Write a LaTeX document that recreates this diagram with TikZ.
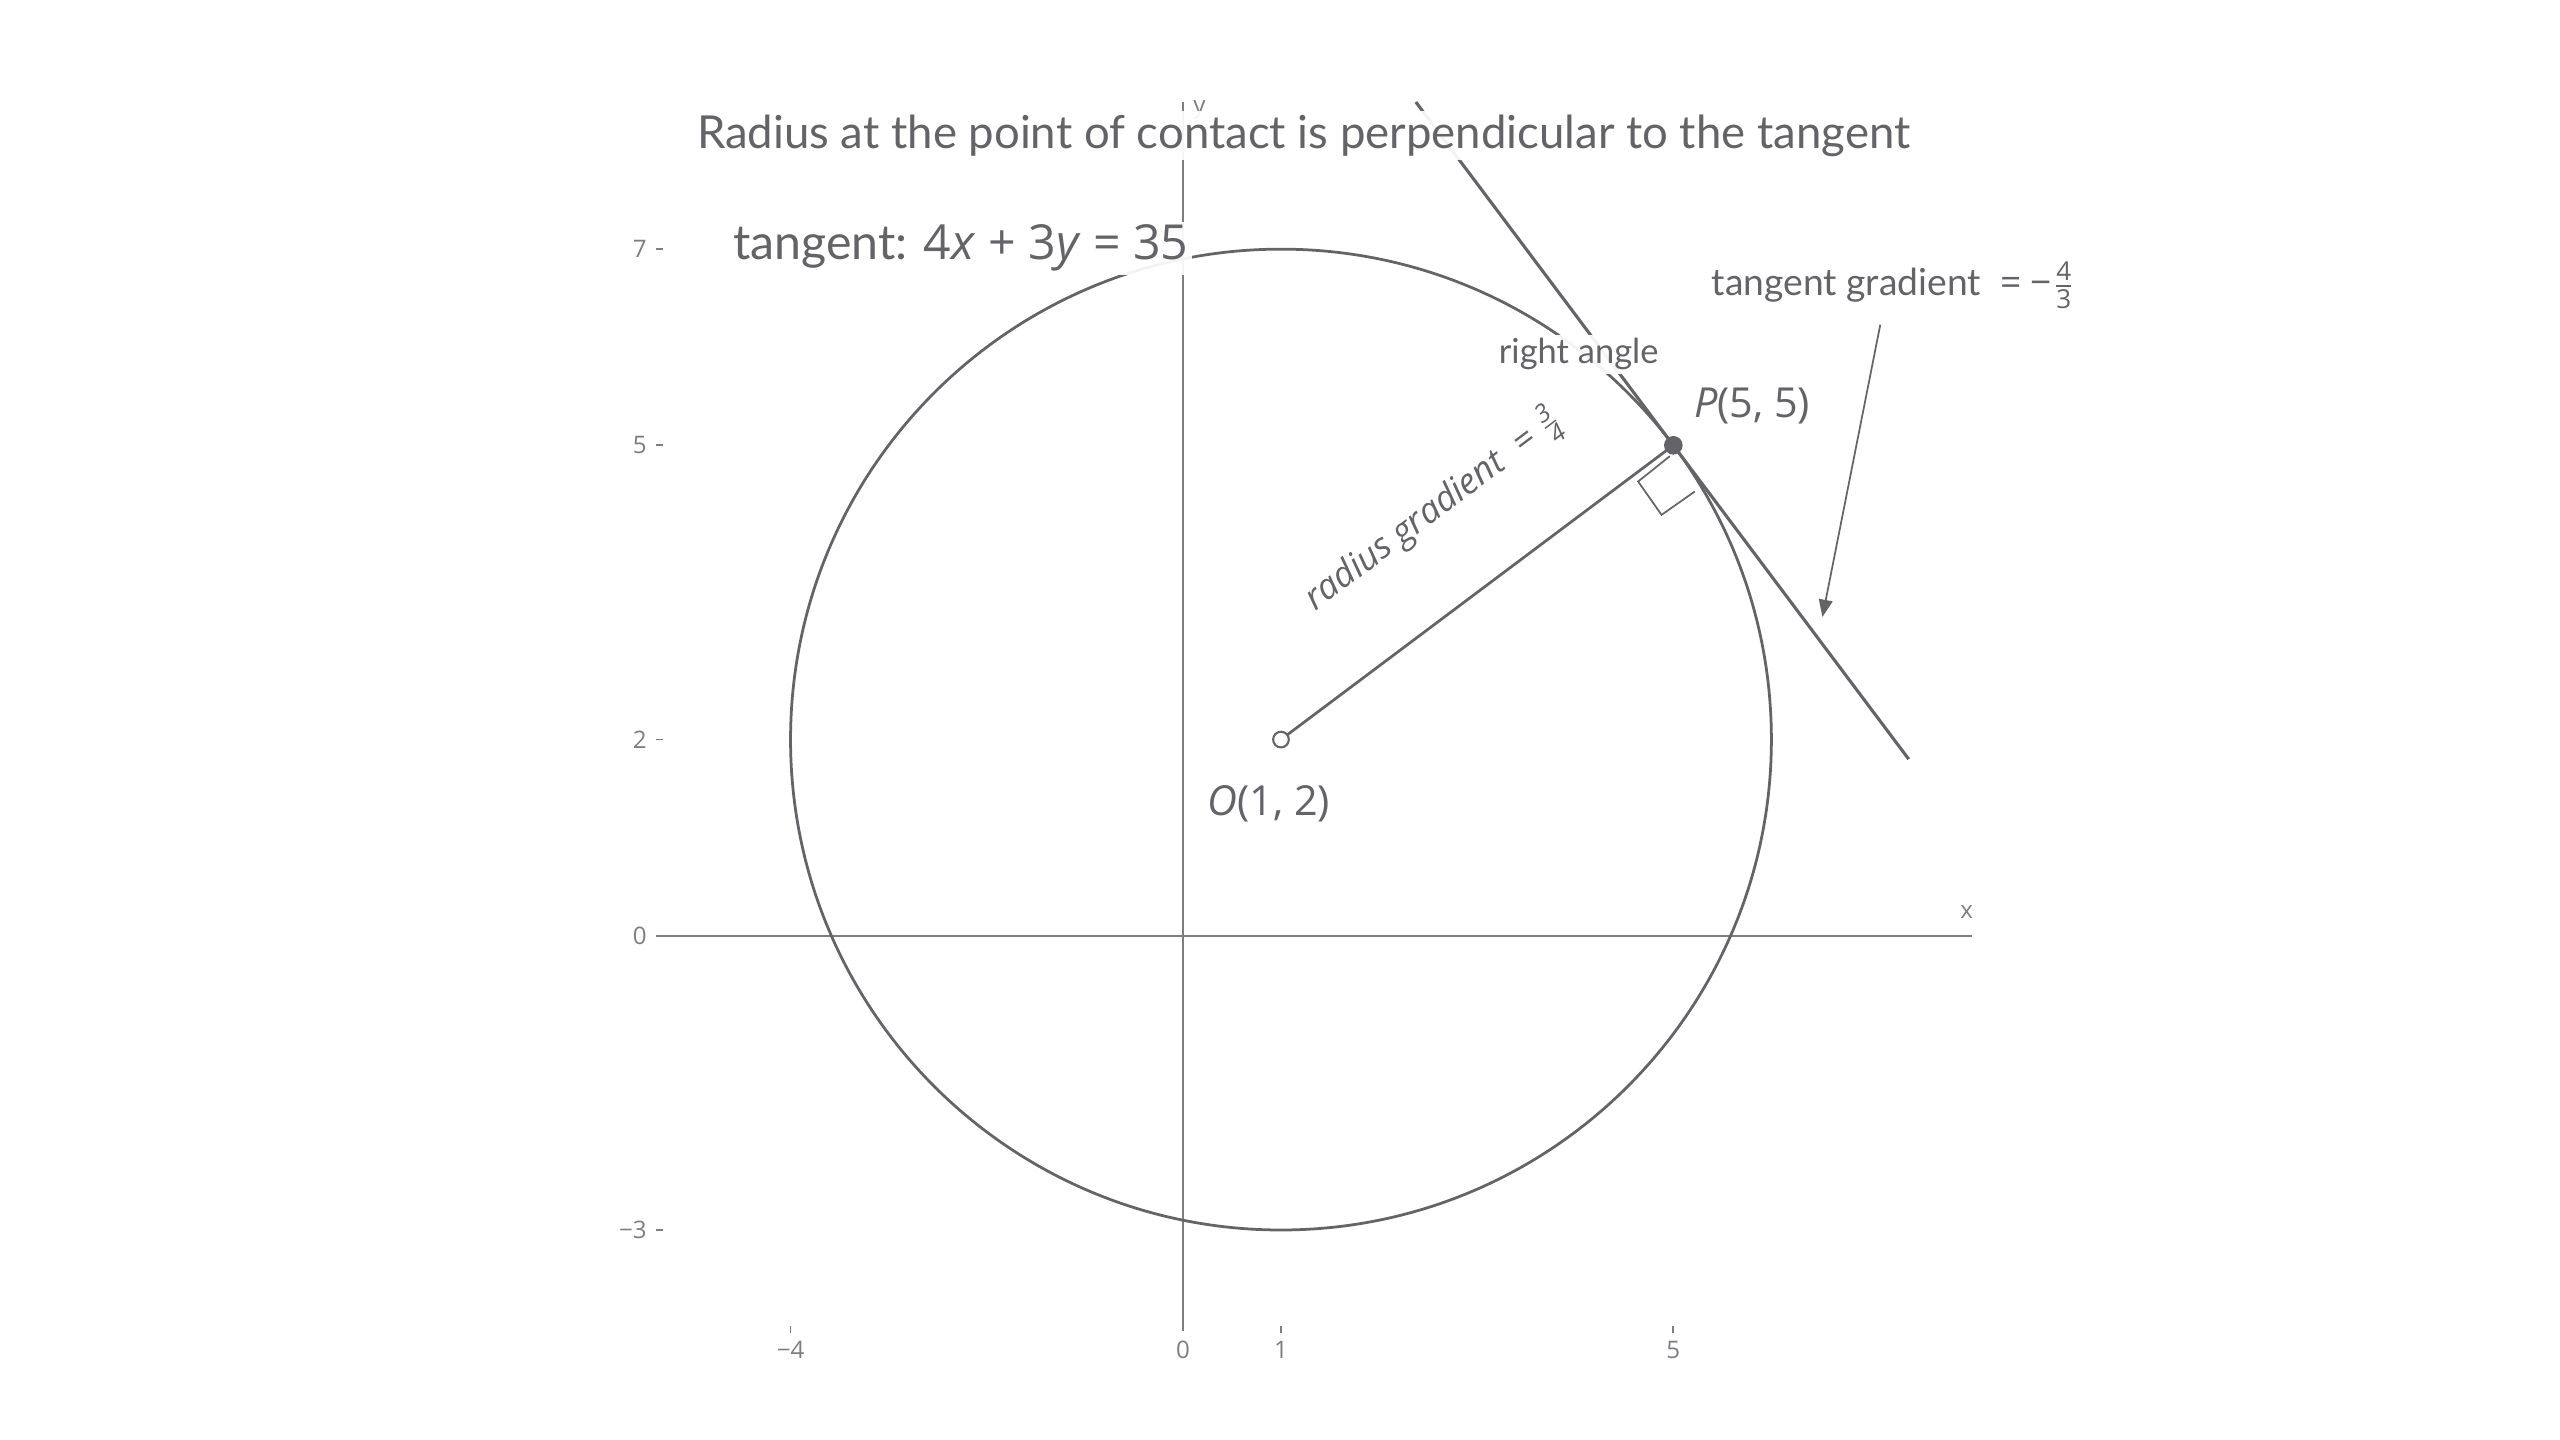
\documentclass[tikz,border=0pt]{standalone}
\usepackage{amsmath}
\usepackage{fontspec}
\setmainfont{Lato}
\newfontfamily\numfont{Open Sans}
\usetikzlibrary{arrows.meta}
\definecolor{ink}{RGB}{99,99,104}
\definecolor{axisgray}{RGB}{125,125,130}

\begin{document}
\begin{tikzpicture}[x=1cm,y=1cm,
    curve/.style={draw=ink, line width=0.8pt},
    axisline/.style={draw=axisgray, line width=0.5pt},
    ticklabel/.style={text=axisgray, font=\numfont\fontsize{7}{8}\selectfont, inner sep=0pt},
    note/.style={text=ink, fill=white, fill opacity=0.93, text opacity=1, inner sep=1pt},
    pointer/.style={draw=ink, line width=0.5pt, -{Triangle[length=5pt,width=4pt]}}]
                    \useasboundingbox (-12.06,-5.14) rectangle (14.04,9.54);
                    % axes
                    \draw [axisline] (-5.37,0) -- (8.05,0);
                    \draw [axisline] (0,8.5) -- (0,-4.03);
                    \node [ticklabel] (xlab) at (7.99,0.245) {x};
                    \node [ticklabel] (ylab) at (0.17,8.42) {y};
                    \foreach \v/\t in {7/7,5/5,2/2,0/0,-3/{\textminus 3}}
                        \node [ticklabel,anchor=east] (ytick\v) at (-5.46,\v) {\t};
                    \foreach \v in {7,5,2,-3}
                        \draw [axisline] (-5.37,\v) -- (-5.30,\v);
                    \foreach \v/\t in {-4/{\textminus 4},0/0,1/1,5/5}
                        \node [ticklabel] (xtick\v) at (\v,-4.22) {\t};
                    \foreach \v in {-4,1,5}
                        \draw [axisline] (\v,-3.98) -- (\v,-4.05);
                    % circle, tangent and radius
                    \coordinate (O) at (1,2);
                    \coordinate (P) at (5,5);
                    \coordinate (tantop) at (2.375,8.5);
                    \coordinate (tanbot) at (7.4,1.8);
                    \draw [curve] (O) circle [radius=5];
                    \draw [curve,line width=0.9pt] (tantop) -- (tanbot);
                    \draw [curve] (O) -- (P);
                    \draw [ink,line width=0.5pt] (4.964,4.889) -- (4.641,4.631) -- (4.880,4.291) -- (5.219,4.529);
                    \draw [fill=ink,draw=none] (P) circle [radius=.095];
                    \draw [fill=white,draw=ink,line width=0.6pt] (O) circle [radius=.08];
                    % labels
                    \node [note,anchor=base,font=\fontsize{13.2}{15}\selectfont] (title) at (1.23,8.03)
                        {Radius at the point of contact is perpendicular to the tangent};
                    \node [note,anchor=base east,font=\fontsize{14}{16}\selectfont] (tangent) at (0.1,6.89)
                        {tangent: {\numfont 4\textit{x} + 3\textit{y} = 35}};
                    \node [note,anchor=base west,font=\fontsize{10.8}{12}\selectfont] (tgrad) at (5.35,6.53)
                        {tangent gradient \ {\numfont = \textminus$\frac{\text{4}}{\text{3}}$}};
                    \node [note,anchor=base west,font=\fontsize{10}{12}\selectfont] (rangle) at (3.18,5.83) {right angle};
                    \node [note,anchor=base west,font=\numfont\fontsize{12}{14}\selectfont] (Plab) at (5.17,5.28) {\textit{P}(5, 5)};
                    \node [note,anchor=base west,font=\numfont\fontsize{12}{14}\selectfont] (Olab) at (0.21,1.23) {\textit{O}(1, 2)};
                    \node [text=ink,rotate=36.87,font=\numfont\fontsize{10.3}{12}\selectfont] (rgrad) at (2.56,4.34)
                        {\textit{radius gradient} \ = $\frac{\text{\textit{3}}}{\text{\textit{4}}}$};
                    \coordinate (tgtail) at (7.11,6.23);
                    \coordinate (tghead) at (6.52,3.25);
                    \draw [pointer] (tgtail) -- (tghead);
                \end{tikzpicture}
\end{document}
